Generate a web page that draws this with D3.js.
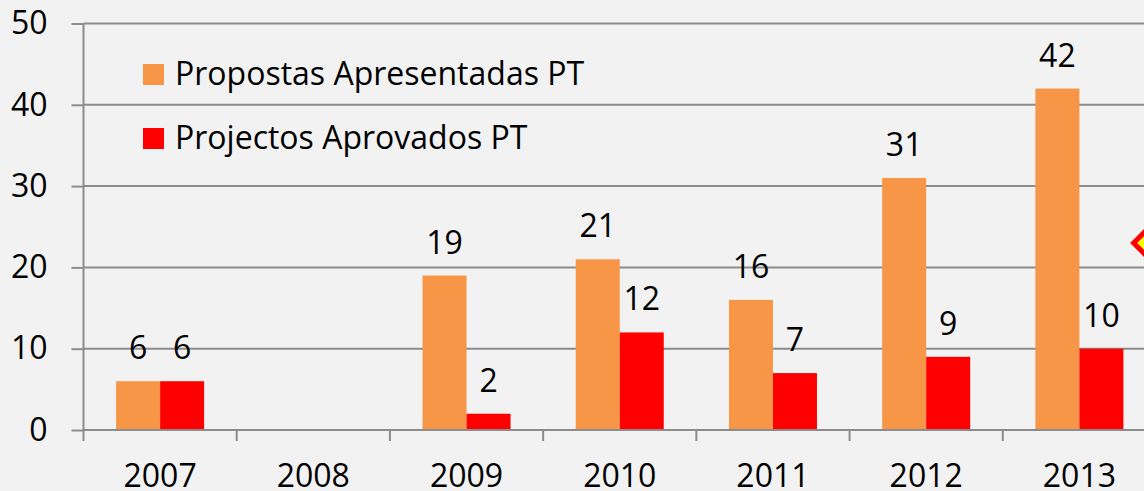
<!DOCTYPE html>
<html>
<head>
<meta charset="utf-8">
<script src="https://cdnjs.cloudflare.com/ajax/libs/d3/7.8.5/d3.min.js"></script>
<style>
  html, body { margin: 0; padding: 0; background: #f2f2f2; overflow: hidden; }
  svg { display: block; font-family: "Open Sans", Lato, sans-serif; }
</style>
</head>
<body>
<svg id="chart"></svg>
<script>
// chart data
const years = ["2007", "2008", "2009", "2010", "2011", "2012", "2013"];
const seriesNames = ["Propostas Apresentadas PT", "Projectos Aprovados PT"];
const propostas = [6, null, 19, 21, 16, 31, 42];
const aprovados = [6, null, 2, 12, 7, 9, 10];
const yTicks = [0, 10, 20, 30, 40, 50];
const markerValues = [23];

const colors = ["#f79646", "#ff0000"];
const fontFamily = "'Open Sans', Lato, sans-serif";
const fontSize = 32;

const width = 1144, height = 491;
const margin = { left: 83.5, top: 23.5, bottom: 61 };
const plotRight = 1156; // plot area continues past the window edge

const svg = d3.select("#chart")
    .attr("width", width)
    .attr("height", height);

svg.append("rect")
    .attr("width", width)
    .attr("height", height)
    .attr("fill", "#f2f2f2");

const x = d3.scaleBand()
    .domain(years)
    .range([margin.left, plotRight])
    .paddingInner(0)
    .paddingOuter(0);

const x1 = d3.scaleBand()
    .domain(seriesNames)
    .range([0, x.bandwidth()])
    .paddingInner(0)
    .paddingOuter(0.741);

const y = d3.scaleLinear()
    .domain([0, 50])
    .range([height - margin.bottom, margin.top]);

const gridColor = "#8c8c8c";

// gridlines
svg.append("g")
    .selectAll("line")
    .data(yTicks.filter(d => d > 0))
    .join("line")
    .attr("x1", margin.left)
    .attr("x2", plotRight)
    .attr("y1", d => y(d))
    .attr("y2", d => y(d))
    .attr("stroke", gridColor)
    .attr("stroke-width", 2);

// y axis
const yAxis = svg.append("g")
    .attr("transform", `translate(${margin.left},0)`)
    .call(d3.axisLeft(y).tickValues(yTicks).tickSize(12).tickPadding(24));
yAxis.select(".domain").remove();
yAxis.selectAll(".tick line").attr("stroke", gridColor).attr("stroke-width", 2);
yAxis.selectAll(".tick text")
    .attr("fill", "#000")
    .attr("font-size", fontSize)
    .attr("font-family", fontFamily);

svg.append("line")
    .attr("x1", margin.left).attr("x2", margin.left)
    .attr("y1", margin.top).attr("y2", y(0) + 11)
    .attr("stroke", gridColor).attr("stroke-width", 2);

// bars
const rows = years.map((yr, i) => ({ year: yr, values: [propostas[i], aprovados[i]] }));

const groups = svg.append("g")
    .selectAll("g")
    .data(rows)
    .join("g")
    .attr("transform", d => `translate(${x(d.year)},0)`);

const cells = groups.selectAll("g")
    .data(d => d.values.map((v, k) => ({ name: seriesNames[k], value: v, k })).filter(c => c.value != null))
    .join("g");

cells.append("rect")
    .attr("x", d => x1(d.name))
    .attr("width", x1.bandwidth())
    .attr("y", d => y(d.value))
    .attr("height", d => y(0) - y(d.value))
    .attr("fill", d => colors[d.k]);

cells.append("text")
    .attr("x", d => x1(d.name) + x1.bandwidth() / 2)
    .attr("y", d => y(d.value) - 22)
    .attr("text-anchor", "middle")
    .attr("font-size", fontSize)
    .attr("fill", "#000")
    .text(d => d.value);

// x axis
const xAxis = svg.append("g")
    .attr("transform", `translate(0,${y(0)})`)
    .call(d3.axisBottom(x).tickSize(0).tickPadding(0));
xAxis.select(".domain").remove();
xAxis.selectAll(".tick text")
    .attr("y", 57)
    .attr("dy", 0)
    .attr("fill", "#000")
    .attr("font-size", fontSize)
    .attr("font-family", fontFamily);

svg.append("line")
    .attr("x1", margin.left).attr("x2", plotRight)
    .attr("y1", y(0)).attr("y2", y(0))
    .attr("stroke", gridColor).attr("stroke-width", 2);

// category boundary ticks
svg.append("g")
    .selectAll("line")
    .data(years.slice(1))
    .join("line")
    .attr("x1", d => x(d)).attr("x2", d => x(d))
    .attr("y1", y(0)).attr("y2", y(0) + 11)
    .attr("stroke", gridColor).attr("stroke-width", 2);

// marker at right edge
svg.append("g")
    .selectAll("path")
    .data(markerValues)
    .join("path")
    .attr("transform", d => `translate(${plotRight - 11},${y(d)})`)
    .attr("d", d3.symbol(d3.symbolDiamond2, 330))
    .attr("fill", "#ffff00")
    .attr("stroke", "#ff0000")
    .attr("stroke-width", 5);

// legend
const legend = svg.append("g")
    .selectAll("g")
    .data(seriesNames)
    .join("g")
    .attr("transform", (d, i) => `translate(143,${64 + i * 64})`);

legend.append("rect")
    .attr("width", 21)
    .attr("height", 21)
    .attr("fill", (d, i) => colors[i]);

legend.append("text")
    .attr("x", 32)
    .attr("y", 21)
    .attr("font-size", fontSize)
    .attr("fill", "#000")
    .text(d => d);
</script>
</body>
</html>
